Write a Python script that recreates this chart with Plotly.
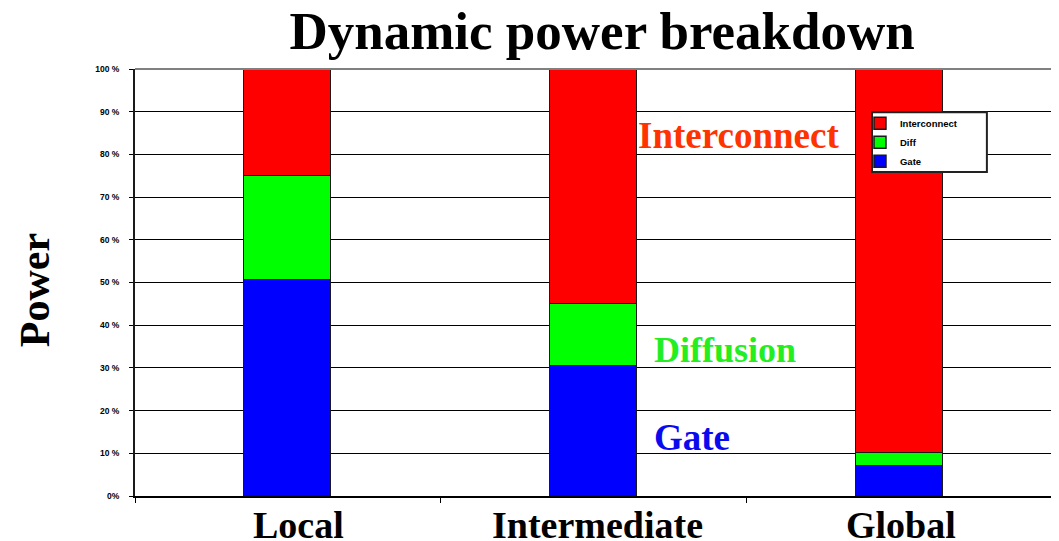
import plotly.graph_objects as go

categories = ["Local", "Intermediate", "Global"]
gate = [50.5, 30.5, 7.0]
diff = [24.5, 14.5, 3.0]
interconnect = [25.0, 55.0, 90.0]
tick_vals = [0, 10, 20, 30, 40, 50, 60, 70, 80, 90, 100]
tick_text = ["0%", "10 %", "20 %", "30 %", "40 %", "50 %", "60 %", "70 %", "80 %", "90 %", "100 %"]

serif = "Liberation Serif, Times New Roman, serif"
sans = "Liberation Sans, Arial, sans-serif"

fig = go.Figure()
for name, vals, col in [("Gate", gate, "#0000ff"), ("Diff", diff, "#00ff00"), ("Interconnect", interconnect, "#ff0000")]:
    fig.add_trace(go.Bar(x=categories, y=vals, name="<b>" + name + "</b>", width=0.285,
                         marker=dict(color=col, line=dict(color="#1a1a1a", width=1.5))))

fig.update_layout(
    barmode="stack",
    width=1059, height=541,
    margin=dict(l=127, r=15, t=61, b=53, autoexpand=False),
    plot_bgcolor="white", paper_bgcolor="white",
    showlegend=True,
    title=dict(text="<b>Dynamic power breakdown</b>", x=0.561, xanchor="center",
               y=0.959, yanchor="middle", yref="container",
               font=dict(family=serif, size=53, color="black")),
    legend=dict(x=0.7906, y=0.907, xanchor="left", yanchor="top",
                borderwidth=0, bgcolor="rgba(0,0,0,0)",
                traceorder="reversed", font=dict(family=sans, size=9.5, color="black"),
                itemwidth=30, tracegroupgap=0),
    xaxis=dict(showline=True, linecolor="black", linewidth=2,
               ticks="outside", tickson="boundaries", ticklen=5, tickcolor="black",
               showticklabels=False,
               range=[-0.5, 2.5], showgrid=False, automargin=False),
    yaxis=dict(range=[0, 100], tickvals=tick_vals, ticktext=["<b>" + t + "</b>" for t in tick_text],
               showline=True, linecolor="#1a1a1a", linewidth=2,
               ticks="outside", ticklen=4, tickcolor="black", ticklabelstandoff=8,
               tickfont=dict(family=sans, size=8.5, color="black"),
               showgrid=True, gridcolor="black", gridwidth=1, zeroline=False, automargin=False),
    bargap=0,
)
# category labels under the axis
for c, dx in zip(categories, [11, 4, 2]):
    fig.add_annotation(text="<b>" + c + "</b>", x=c, xref="x", yref="paper", y=0,
                       yanchor="middle", yshift=-29, xshift=dx, showarrow=False,
                       font=dict(family=serif, size=38, color="black"))
# top and right frame
fig.add_shape(type="line", xref="paper", yref="paper", x0=0, x1=1, y0=1, y1=1,
              line=dict(color="#808080", width=2))
fig.add_shape(type="line", xref="paper", yref="paper", x0=1, x1=1, y0=0, y1=1,
              line=dict(color="#808080", width=2))
# legend box
fig.add_shape(type="rect", xref="paper", yref="paper", x0=0.8037, x1=0.929, y0=0.759, y1=0.899,
              line=dict(color="#222222", width=2), fillcolor="white", layer="above")

fig.add_annotation(text="<b>Power</b>", xref="paper", yref="paper", textangle=-90,
                   x=0, xanchor="center", xshift=-100, y=0.482, showarrow=False,
                   font=dict(family=serif, size=42, color="black"))
fig.add_annotation(text="<b>Interconnect</b>", x=1.475, y=84.5, showarrow=False,
                   font=dict(family=serif, size=37, color="#ff3300"))
fig.add_annotation(text="<b>Diffusion</b>", x=1.429, y=34.2, showarrow=False,
                   font=dict(family=serif, size=36, color="#22ee22"))
fig.add_annotation(text="<b>Gate</b>", x=1.321, y=13.6, showarrow=False,
                   font=dict(family=serif, size=37, color="#0a0aee"))

fig.write_html("out.html")
